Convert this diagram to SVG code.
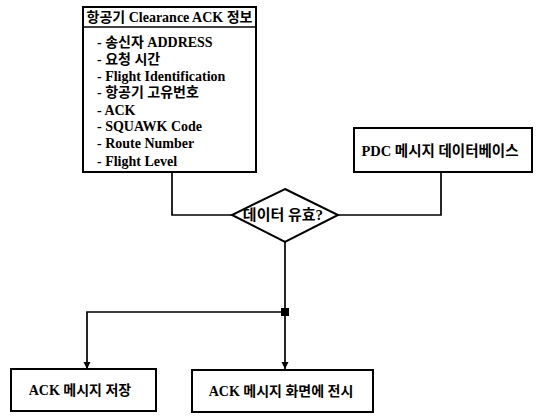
<svg xmlns="http://www.w3.org/2000/svg" width="539" height="417" viewBox="0 0 539 417">
<style>
.box{fill:#fff;stroke:#000;stroke-width:2}
.ln{fill:none;stroke:#000;stroke-width:1.7}
.t{font-family:"Liberation Serif","Noto Sans CJK KR",serif;font-weight:bold;font-size:14px;fill:#000}
.k{font-family:"Liberation Serif","Noto Sans CJK KR",serif;font-weight:bold;font-size:14px;fill:#000}
.c{text-anchor:middle}
</style>
<defs>
<marker id="ah" viewBox="0 0 10 10" refX="10" refY="5" markerWidth="7" markerHeight="8" markerUnits="userSpaceOnUse" orient="auto">
<path d="M0,0 L10,5 L0,10 Z" fill="#000"/>
</marker>
</defs>
<rect width="539" height="417" fill="#fff"/>
<g id="connectors">
<polyline class="ln" points="172,172 172,215 232,215"/>
<polyline class="ln" points="441,172 441,215 338,215"/>
<line class="ln" x1="285" y1="242" x2="285" y2="369" marker-end="url(#ah)"/>
<polyline class="ln" points="285,312 87,312 87,369" marker-end="url(#ah)"/>
<rect x="281" y="308" width="8" height="8" fill="#000"/>
</g>
<g id="clearance-info">
<rect class="box" x="83" y="7" width="173" height="165"/>
<line class="ln" x1="83" y1="27" x2="256" y2="27" stroke-width="2"/>
<text class="t c" x="169.5" y="22">항공기 Clearance ACK 정보</text>
<text class="t" x="97" y="47">- 송신자 ADDRESS</text>
<text class="t" x="97" y="64">- 요청 시간</text>
<text class="t" x="97" y="81">- Flight Identification</text>
<text class="t" x="97" y="97">- 항공기 고유번호</text>
<text class="t" x="97" y="115">- ACK</text>
<text class="t" x="97" y="131">- SQUAWK Code</text>
<text class="t" x="97" y="148">- Route Number</text>
<text class="t" x="97" y="166">- Flight Level</text>
</g>
<g id="pdc-db">
<rect class="box" x="354" y="128" width="178" height="44"/>
<text class="k c" x="440" y="156" style="font-size:14.5px">PDC 메시지 데이터베이스</text>
</g>
<g id="data-valid">
<polygon points="285,189 338,215 285,242 232,215" fill="#fff" stroke="#000" stroke-width="2"/>
<text class="k c" x="283" y="220" style="font-size:15px">데이터 유효?</text>
</g>
<g id="ack-store">
<rect class="box" x="11" y="369" width="145" height="42"/>
<text class="k c" x="80" y="395">ACK 메시지 저장</text>
</g>
<g id="ack-display">
<rect class="box" x="192" y="370" width="181" height="42"/>
<text class="k c" x="281" y="396">ACK 메시지 화면에 전시</text>
</g>
</svg>
